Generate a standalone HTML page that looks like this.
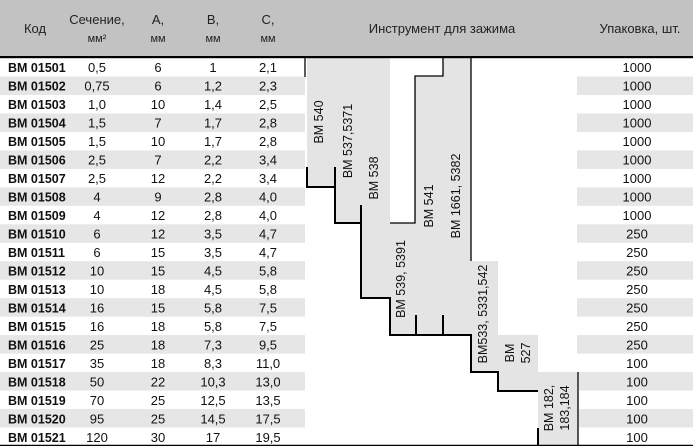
<!DOCTYPE html>
<html><head><meta charset="utf-8"><style>
html,body{margin:0;padding:0;background:#fff;width:693px;height:446px;overflow:hidden}
svg{display:block}
text{font-family:"Liberation Sans Narrow","Liberation Sans",sans-serif;font-size:13px;fill:#111}
.b{font-weight:bold;font-family:"Liberation Sans",sans-serif;font-size:12.5px}
.c{text-anchor:middle}
.h{font-size:13px;fill:#222}
.l{font-size:12.5px}
</style></head><body>
<svg width="693" height="446" viewBox="0 0 693 446" xmlns="http://www.w3.org/2000/svg">
<rect x="0" y="0" width="693" height="57" fill="#c2c2c2"/>
<g fill="#e6e6e6">
<rect x="0" y="76.5" width="305" height="18.5"/><rect x="577" y="76.5" width="116" height="18.5"/>
<rect x="0" y="113.4" width="305" height="18.5"/><rect x="577" y="113.4" width="116" height="18.5"/>
<rect x="0" y="150.4" width="305" height="18.5"/><rect x="577" y="150.4" width="116" height="18.5"/>
<rect x="0" y="187.3" width="305" height="18.5"/><rect x="577" y="187.3" width="116" height="18.5"/>
<rect x="0" y="224.3" width="305" height="18.5"/><rect x="577" y="224.3" width="116" height="18.5"/>
<rect x="0" y="261.2" width="305" height="18.5"/><rect x="577" y="261.2" width="116" height="18.5"/>
<rect x="0" y="298.2" width="305" height="18.5"/><rect x="577" y="298.2" width="116" height="18.5"/>
<rect x="0" y="335.1" width="305" height="18.5"/><rect x="577" y="335.1" width="116" height="18.5"/>
<rect x="0" y="372.1" width="305" height="18.5"/><rect x="579" y="372.1" width="114" height="18.5"/>
<rect x="0" y="409" width="305" height="18.5"/><rect x="579" y="409" width="114" height="18.5"/>
</g>
<polygon fill="#e4e4e4" points="307,58 390,58 390,223 415,223 415,76 443,76 443,58 471,58 471,261 498,261 498,335 538,335 538,372 578,372 578,446 538,446 538,391 498,391 498,372 471,372 471,335 390,335 390,298 361,298 361,223 335,223 335,187 307,187"/>
<rect x="0" y="56" width="693" height="2.2" fill="#000"/>
<g stroke="#000" stroke-width="2" fill="none">
<polyline points="307,167 307,187 335,187 335,223 361,223"/>
<polyline points="335,167 335,187"/>
<polyline points="361,205 361,298 390,298 390,335 471,335 471,372 498,372 498,391 538,391"/>
<line x1="390" y1="315" x2="390" y2="335"/><line x1="416" y1="315" x2="416" y2="335"/><line x1="443" y1="315" x2="443" y2="335"/>
<line x1="471" y1="350" x2="471" y2="372"/>
<line x1="538" y1="428" x2="538" y2="446"/>
</g>
<g stroke="#000" stroke-width="1.3" fill="none">
<polyline points="390,223 415,223 415,76 443,76 443,58"/>
<line x1="471" y1="58" x2="471" y2="261"/>
<line x1="578" y1="372" x2="578" y2="446"/>
<line x1="305" y1="58" x2="305" y2="77"/>
</g>
<line x1="0" y1="445.5" x2="693" y2="445.5" stroke="#000" stroke-width="1.5"/>
<!-- header -->
<text class="h c" x="35" y="33">Код</text>
<text class="h c" x="97" y="24">Сечение,</text>
<text class="h c" x="97" y="42" style="font-size:11px">мм²</text>
<text class="h c" x="158" y="24">A,</text><text class="h c" x="158" y="42" style="font-size:11px">мм</text>
<text class="h c" x="213" y="24">B,</text><text class="h c" x="213" y="42" style="font-size:11px">мм</text>
<text class="h c" x="268" y="24">C,</text><text class="h c" x="268" y="42" style="font-size:11px">мм</text>
<text class="h c" x="442" y="33">Инструмент для зажима</text>
<text class="h c" x="640" y="33">Упаковка, шт.</text>
<!-- labels -->
<g class="l">
<text class="l c" transform="translate(323,122) rotate(-90)">BM 540</text>
<text class="l c" transform="translate(352,141) rotate(-90)">BM 537,5371</text>
<text class="l c" transform="translate(378,178) rotate(-90)">BM 538</text>
<text class="l c" transform="translate(433,206) rotate(-90)">BM 541</text>
<text class="l c" transform="translate(460,196) rotate(-90)">BM 1661, 5382</text>
<text class="l c" transform="translate(405,279) rotate(-90)">BM 539, 5391</text>
<text class="l c" transform="translate(487,314) rotate(-90)">BM533, 5331,542</text>
<text class="l c" transform="translate(514,353) rotate(-90)">BM</text>
<text class="l c" transform="translate(530,353) rotate(-90)">527</text>
<text class="l c" transform="translate(553,408) rotate(-90)">BM 182,</text>
<text class="l c" transform="translate(569,408) rotate(-90)">183,184</text>
</g>
<!-- rows -->
<g>
<text class="b" x="8" y="72">BM 01501</text><text class="c" x="97" y="72">0,5</text><text class="c" x="158" y="72">6</text><text class="c" x="213" y="72">1</text><text class="c" x="268" y="72">2,1</text><text class="c" x="637" y="72">1000</text>
<text class="b" x="8" y="90.5">BM 01502</text><text class="c" x="97" y="90.5">0,75</text><text class="c" x="158" y="90.5">6</text><text class="c" x="213" y="90.5">1,2</text><text class="c" x="268" y="90.5">2,3</text><text class="c" x="637" y="90.5">1000</text>
<text class="b" x="8" y="109">BM 01503</text><text class="c" x="97" y="109">1,0</text><text class="c" x="158" y="109">10</text><text class="c" x="213" y="109">1,4</text><text class="c" x="268" y="109">2,5</text><text class="c" x="637" y="109">1000</text>
<text class="b" x="8" y="127.5">BM 01504</text><text class="c" x="97" y="127.5">1,5</text><text class="c" x="158" y="127.5">7</text><text class="c" x="213" y="127.5">1,7</text><text class="c" x="268" y="127.5">2,8</text><text class="c" x="637" y="127.5">1000</text>
<text class="b" x="8" y="146">BM 01505</text><text class="c" x="97" y="146">1,5</text><text class="c" x="158" y="146">10</text><text class="c" x="213" y="146">1,7</text><text class="c" x="268" y="146">2,8</text><text class="c" x="637" y="146">1000</text>
<text class="b" x="8" y="164.5">BM 01506</text><text class="c" x="97" y="164.5">2,5</text><text class="c" x="158" y="164.5">7</text><text class="c" x="213" y="164.5">2,2</text><text class="c" x="268" y="164.5">3,4</text><text class="c" x="637" y="164.5">1000</text>
<text class="b" x="8" y="183">BM 01507</text><text class="c" x="97" y="183">2,5</text><text class="c" x="158" y="183">12</text><text class="c" x="213" y="183">2,2</text><text class="c" x="268" y="183">3,4</text><text class="c" x="637" y="183">1000</text>
<text class="b" x="8" y="201.5">BM 01508</text><text class="c" x="97" y="201.5">4</text><text class="c" x="158" y="201.5">9</text><text class="c" x="213" y="201.5">2,8</text><text class="c" x="268" y="201.5">4,0</text><text class="c" x="637" y="201.5">1000</text>
<text class="b" x="8" y="220">BM 01509</text><text class="c" x="97" y="220">4</text><text class="c" x="158" y="220">12</text><text class="c" x="213" y="220">2,8</text><text class="c" x="268" y="220">4,0</text><text class="c" x="637" y="220">1000</text>
<text class="b" x="8" y="238.5">BM 01510</text><text class="c" x="97" y="238.5">6</text><text class="c" x="158" y="238.5">12</text><text class="c" x="213" y="238.5">3,5</text><text class="c" x="268" y="238.5">4,7</text><text class="c" x="637" y="238.5">250</text>
<text class="b" x="8" y="257">BM 01511</text><text class="c" x="97" y="257">6</text><text class="c" x="158" y="257">15</text><text class="c" x="213" y="257">3,5</text><text class="c" x="268" y="257">4,7</text><text class="c" x="637" y="257">250</text>
<text class="b" x="8" y="275.5">BM 01512</text><text class="c" x="97" y="275.5">10</text><text class="c" x="158" y="275.5">15</text><text class="c" x="213" y="275.5">4,5</text><text class="c" x="268" y="275.5">5,8</text><text class="c" x="637" y="275.5">250</text>
<text class="b" x="8" y="294">BM 01513</text><text class="c" x="97" y="294">10</text><text class="c" x="158" y="294">18</text><text class="c" x="213" y="294">4,5</text><text class="c" x="268" y="294">5,8</text><text class="c" x="637" y="294">250</text>
<text class="b" x="8" y="312.5">BM 01514</text><text class="c" x="97" y="312.5">16</text><text class="c" x="158" y="312.5">15</text><text class="c" x="213" y="312.5">5,8</text><text class="c" x="268" y="312.5">7,5</text><text class="c" x="637" y="312.5">250</text>
<text class="b" x="8" y="331">BM 01515</text><text class="c" x="97" y="331">16</text><text class="c" x="158" y="331">18</text><text class="c" x="213" y="331">5,8</text><text class="c" x="268" y="331">7,5</text><text class="c" x="637" y="331">250</text>
<text class="b" x="8" y="349.5">BM 01516</text><text class="c" x="97" y="349.5">25</text><text class="c" x="158" y="349.5">18</text><text class="c" x="213" y="349.5">7,3</text><text class="c" x="268" y="349.5">9,5</text><text class="c" x="637" y="349.5">250</text>
<text class="b" x="8" y="368">BM 01517</text><text class="c" x="97" y="368">35</text><text class="c" x="158" y="368">18</text><text class="c" x="213" y="368">8,3</text><text class="c" x="268" y="368">11,0</text><text class="c" x="637" y="368">100</text>
<text class="b" x="8" y="386.5">BM 01518</text><text class="c" x="97" y="386.5">50</text><text class="c" x="158" y="386.5">22</text><text class="c" x="213" y="386.5">10,3</text><text class="c" x="268" y="386.5">13,0</text><text class="c" x="637" y="386.5">100</text>
<text class="b" x="8" y="405">BM 01519</text><text class="c" x="97" y="405">70</text><text class="c" x="158" y="405">25</text><text class="c" x="213" y="405">12,5</text><text class="c" x="268" y="405">13,5</text><text class="c" x="637" y="405">100</text>
<text class="b" x="8" y="423.5">BM 01520</text><text class="c" x="97" y="423.5">95</text><text class="c" x="158" y="423.5">25</text><text class="c" x="213" y="423.5">14,5</text><text class="c" x="268" y="423.5">17,5</text><text class="c" x="637" y="423.5">100</text>
<text class="b" x="8" y="442">BM 01521</text><text class="c" x="97" y="442">120</text><text class="c" x="158" y="442">30</text><text class="c" x="213" y="442">17</text><text class="c" x="268" y="442">19,5</text><text class="c" x="637" y="442">100</text>
</g>
</svg>
</body></html>
